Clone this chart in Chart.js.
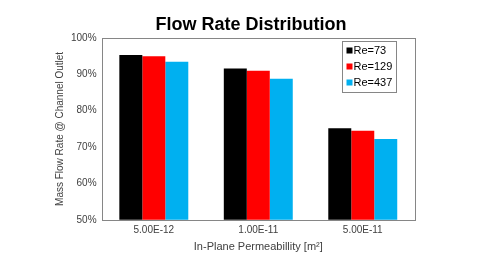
<!DOCTYPE html>
<html>
<head>
<meta charset="utf-8">
<script src="https://cdn.jsdelivr.net/npm/chart.js@4.4.0/dist/chart.umd.min.js"></script>
<style>
  html, body { margin: 0; padding: 0; background: #fff; }
  #wrap { width: 480px; height: 270px; }
</style>
</head>
<body>
<div id="wrap"><canvas id="flowChart"></canvas></div>
<script>
// data
const permeability = ['5.00E-12', '1.00E-11', '5.00E-11'];
const re73 = [95.3, 91.6, 75.2];
const re129 = [95.0, 91.0, 74.5];
const re437 = [93.5, 88.8, 72.2];
const seriesNames = ['Re=73', 'Re=129', 'Re=437'];
const seriesColors = ['#000000', '#ff0000', '#00b0f0'];
const chartTitle = 'Flow Rate Distribution';

// title, plot frame + legend box drawn inside the chart area
const frameAndLegend = {
  id: 'frameAndLegend',
  afterDraw(chart) {
    const ctx = chart.ctx;
    const a = chart.chartArea;
    ctx.save();
    ctx.fillStyle = '#000';
    ctx.font = 'bold 18px "Liberation Sans", Arial, sans-serif';
    ctx.textAlign = 'center';
    ctx.textBaseline = 'middle';
    ctx.fillText(chartTitle, 251, 25);

    ctx.strokeStyle = '#868686';
    ctx.lineWidth = 1;
    ctx.strokeRect(Math.round(a.left) + 0.5, Math.round(a.top) + 0.5,
      Math.round(a.right - a.left), Math.round(a.bottom - a.top));

    // legend
    const bx = 342.5, by = 41.5, bw = 54, bh = 51;
    ctx.fillStyle = '#fff';
    ctx.fillRect(bx, by, bw, bh);
    ctx.strokeStyle = '#868686';
    ctx.strokeRect(bx, by, bw, bh);
    ctx.font = '11px "Liberation Sans", Arial, sans-serif';
    ctx.textAlign = 'left';
    chart.data.datasets.forEach((ds, i) => {
      const y = by + 9 + i * 16;
      ctx.fillStyle = ds.backgroundColor;
      ctx.fillRect(bx + 4, y - 3, 6, 6);
      ctx.fillStyle = '#000';
      ctx.fillText(ds.label, bx + 11, y);
    });
    ctx.restore();
  }
};

const ctx = document.getElementById('flowChart').getContext('2d');
const flowChart = new Chart(ctx, {
  type: 'bar',
  data: {
    labels: permeability,
    datasets: [
      { label: seriesNames[0], data: re73, backgroundColor: seriesColors[0] },
      { label: seriesNames[1], data: re129, backgroundColor: seriesColors[1] },
      { label: seriesNames[2], data: re437, backgroundColor: seriesColors[2] },
    ],
  },
  options: {
    responsive: true,
    maintainAspectRatio: false,
    animation: false,
    layout: {
      padding: { left: 54, right: 65, top: 38, bottom: 16 }
    },
    datasets: {
      bar: {
        barPercentage: 1.0,
        categoryPercentage: 0.66,
      }
    },
    plugins: {
      legend: { display: false },
      tooltip: { enabled: false },
      title: { display: false },
    },
    scales: {
      y: {
        min: 50,
        max: 100,
        ticks: {
          stepSize: 10,
          color: '#404040',
          font: { family: '"Liberation Sans", Arial, sans-serif', size: 10 },
          padding: 5,
          callback: function(value) {
            return value + '%';
          }
        },
        grid: { display: false, drawTicks: false },
        border: { display: false },
        title: {
          display: true,
          text: 'Mass Flow Rate @ Channel Outlet',
          color: '#404040',
          font: { family: '"Liberation Sans", Arial, sans-serif', size: 10 },
          padding: { top: 0, bottom: 0 },
        }
      },
      x: {
        ticks: {
          color: '#404040',
          font: { family: '"Liberation Sans", Arial, sans-serif', size: 10 },
          padding: 4,
        },
        grid: { display: false, drawTicks: false },
        border: { display: false },
        title: {
          display: true,
          text: 'In-Plane Permeabillity [m²]',
          color: '#404040',
          font: { family: '"Liberation Sans", Arial, sans-serif', size: 11 },
          padding: { top: 1, bottom: 0 },
        }
      }
    },
  },
  plugins: [frameAndLegend]
});
</script>
</body>
</html>
